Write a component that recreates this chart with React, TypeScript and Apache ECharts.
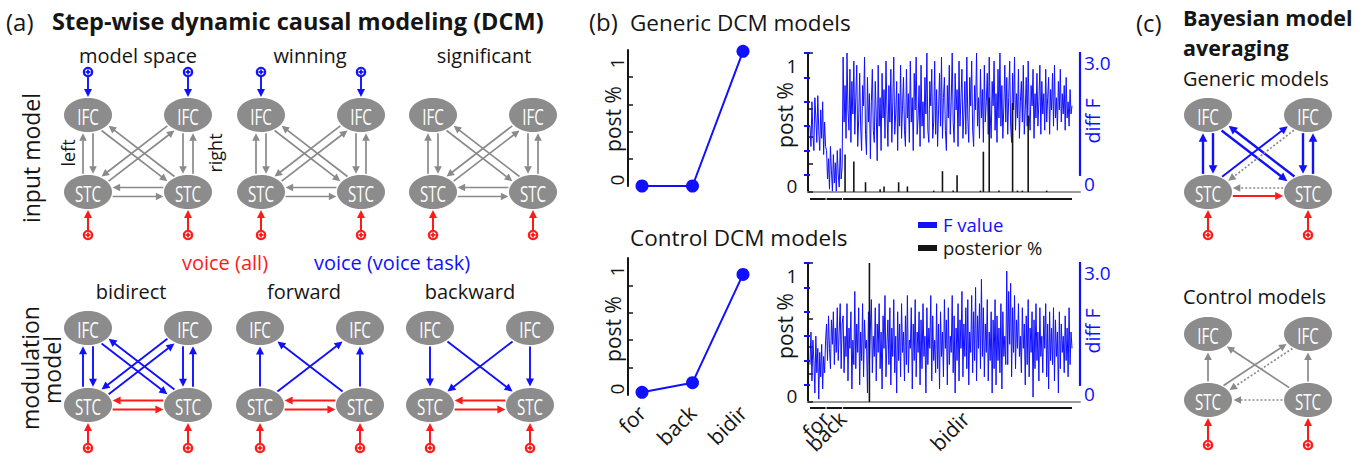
import React, { useEffect, useRef } from 'react';
import * as echarts from 'echarts';

const FONT = '"Open Sans", Lato, "DejaVu Sans", sans-serif';
const BLUE = '#1010ff';
const RED = '#ff1a1a';
const GRAY = '#8a8a8a';
const NODE_FILL = '#8c8c8c';
const INK = '#151515';

// ---------- panel (b) data ----------
const modelFamilies = ['for', 'back', 'bidir'];
const genericFamilyPost = [0, 0, 0.99];
const controlFamilyPost = [0.02, 0.09, 0.88];
const familyRanges = [
  [0, 16],
  [17, 33],
  [34, 269],
];
const leftAxisTicksSmall = [0.2, 0.4, 0.6, 0.8];
const leftAxisTicksWide = [0, 0.2, 0.4, 0.6, 1];
const rightAxisTicks = [0, 0.6, 1.2, 1.8, 2.4, 3.0];
const rightAxisLabels = [0, 3.0];

const genericDiffF = [
  // for
  1.2, 0.7, 1.8, 1.0, 0.6, 1.9, 1.4, 0.8, 1.95, 1.1, 0.6, 1.6, 0.9, 1.8, 0.5, 1.3, 0.7,
  // back
  0.6, -0.1, 0.4, -0.35, 0.7, 0.1, -0.4, 0.5, -0.2, 0.3, -0.4, 0.6, 0.0, -0.3, 0.65, -0.1, 0.2,
  // bidir
  2.9, 1.3, 2.2, 0.9, 3.0, 1.6, 1.1, 2.6, 0.8, 2.3, 1.5, 2.8,
  1.0, 1.9, 2.7, 0.7, 1.4, 2.5, 1.2, 0.6, 2.2, 1.7, 2.9, 1.0,
  0.5, 2.4, 1.3, 2.0, 0.4, 1.8, 2.6, 1.1, 0.8, 2.3, 1.5, 0.35,
  2.7, 1.2, 1.9, 0.6, 2.5, 1.4, 2.1, 0.9, 2.8, 1.6, 0.7, 2.2,
  1.3, 2.6, 0.8, 1.8, 2.9, 1.0, 1.5, 2.3, 0.6, 2.0, 1.2, 2.7,
  0.9, 1.7, 2.4, 1.1, 0.7, 2.6, 1.4, 2.0, 0.8, 2.8, 1.3, 1.9,
  0.6, 2.5, 1.6, 2.9, 1.0, 1.4, 2.2, 0.7, 2.7, 1.2, 1.8, 0.9,
  2.4, 1.5, 3.0, 1.1, 0.8, 2.3, 1.7, 2.6, 0.9, 1.3, 2.8, 1.0,
  2.1, 0.7, 1.6, 2.5, 1.2, 2.9, 0.9, 1.9, 2.4, 1.1, 0.6, 2.2,
  1.4, 2.7, 1.0, 1.8, 3.0, 1.3, 0.8, 2.5, 1.6, 2.1, 0.7, 2.8,
  1.2, 1.9, 2.6, 0.9, 1.5, 2.3, 1.0, 2.9, 1.4, 0.8, 2.4, 1.7,
  2.8, 1.1, 0.7, 2.2, 1.6, 3.0, 1.2, 1.9, 0.9, 2.6, 1.4, 2.1,
  0.8, 2.7, 1.3, 1.8, 2.5, 1.0, 2.9, 1.5, 0.9, 2.3, 1.7, 2.8,
  1.1, 2.0, 0.8, 2.6, 1.4, 3.0, 1.2, 2.2, 0.9, 1.7, 2.7, 1.3,
  2.4, 1.0, 1.9, 2.8, 1.2, 0.8, 2.5, 1.6, 2.9, 1.1, 2.0, 1.4,
  2.6, 0.9, 1.8, 2.3, 1.3, 2.7, 1.0, 1.6, 2.4, 1.2, 2.8, 1.5,
  1.1, 2.2, 1.7, 2.6, 0.9, 2.0, 1.4, 2.5, 1.2, 1.8, 2.7, 1.0,
  2.3, 1.5, 2.0, 1.1, 2.6, 1.3, 1.9, 2.4, 1.0, 2.1, 1.6, 2.5,
  1.2, 2.7, 1.4, 1.9, 1.1, 2.3, 1.6, 2.6, 1.3, 2.0, 1.5, 2.2,
  1.1, 2.4, 1.4, 1.8, 1.2, 2.1, 1.5, 1.7,
];

const controlDiffF = [
  // for
  0.5, 1.3, 0.1, 1.1, 0.6, -0.2, 1.2, 0.3, 0.9, -0.35, 0.8, 0.2, 1.0, -0.1, 0.7, 0.3, 1.1,
  // back
  1.5, 0.6, 1.7, 0.9, 0.4, 1.6, 1.0, 1.8, 0.5, 1.4, 0.8, 1.9, 0.6, 1.3, 2.0, 0.4, 1.5,
  // bidir
  1.7, 0.3, 1.2, 0.7, 2.0, 0.1, 1.4, 0.9, 1.8, -0.1, 1.1, 0.5,
  2.3, 0.4, 1.5, 0.8, 1.9, 0.0, 1.3, 0.6, 2.0, 0.2, 1.6, 0.9,
  1.1, -0.2, 1.8, 0.5, 1.4, 2.1, 0.3, 1.2, 0.7, 1.9, 0.1, 1.5,
  0.8, 2.0, 0.4, 1.3, -0.1, 1.7, 0.9, 2.2, 0.2, 1.0, 1.6, 0.5,
  1.9, 0.0, 1.4, 0.7, 2.1, 0.3, 1.2, -0.2, 1.8, 0.6, 1.5, 0.2,
  2.0, 0.8, 1.3, 0.1, 1.7, 0.5, 2.2, 0.3, 1.1, 0.9, 1.9, -0.1,
  1.5, 0.6, 2.1, 0.2, 1.3, 0.8, 1.8, 0.0, 1.6, 0.4, 2.0, 0.7,
  1.2, -0.2, 1.9, 0.5, 1.4, 0.9, 2.2, 0.1, 1.7, 0.6, 1.1, 0.3,
  2.0, 0.4, 1.5, -0.1, 1.8, 0.7, 1.3, 0.2, 2.1, 0.9, 1.6, 0.0,
  1.9, 0.5, 1.2, 0.8, 2.2, 0.3, 1.7, -0.2, 1.4, 0.6, 2.0, 0.1,
  1.6, 0.9, 2.3, 0.2, 1.5, 0.7, 1.9, 0.4, 2.1, 0.0, 1.3, 0.8,
  2.2, 0.3, 1.8, 0.6, 2.4, 0.1, 1.7, 0.9, 2.0, 0.4, 2.6, 0.7,
  1.9, 0.2, 1.5, 0.8, 2.1, 0.1, 1.3, 0.6, 1.8, -0.2, 1.6, 0.4,
  2.1, 0.0, 1.7, 0.6, 1.4, 0.3, 2.0, -0.1, 1.8, 0.7, 1.2, 0.5,
  2.8, 0.5, 2.3, 1.0, 2.5, 0.2, 1.9, 0.8, 2.2, 0.4, 1.6, 0.9,
  2.0, 0.7, 1.2, 0.3, 1.9, 0.9, 1.5, 0.0, 1.7, 0.5, 2.1, 0.2,
  1.4, 0.8, 1.8, -0.3, 1.6, 0.4, 2.0, 0.6, 1.3, 0.1, 1.9, 0.7,
  1.2, 0.3, 1.7, 0.9, 2.0, 0.2, 1.5, -0.1, 1.8, 0.6, 1.4, 0.5,
  1.9, 0.1, 1.6, 0.7, 1.3, -0.2, 1.8, 0.4, 1.5, 0.8, 1.2, 0.3,
  1.7, 0.6, 1.4, 0.2, 1.9, 0.5, 1.3, 0.9,
];

const genericModelPost = [
  [36, 0.27], [45, 0.22], [57, 0.07], [72, 0.02], [76, 0.04], [91, 0.07],
  [100, 0.04], [127, 0.01], [136, 0.15], [147, 0.01], [151, 0.12], [175, 0.01],
  [178, 0.29], [184, 0.68], [194, 0.01], [208, 0.64], [213, 0.01], [218, 0.01],
  [224, 0.55], [243, 0.01],
];
const controlModelPost = [[61, 1.0]];

// ---------- layout (positions / sizes) ----------
const G_TL = { left: 642, top: 50, width: 101, height: 136 };
const G_TR = { left: 808, top: 53, width: 272, height: 139 };
const G_BL = { left: 642, top: 258, width: 101, height: 137 };
const G_BR = { left: 808, top: 263, width: 272, height: 139 };
const X_MIN = -2.05;
const X_MAX = 277.2;
const F_MIN = -0.42;
const F_MAX = 3.0;

// ---------- network diagrams ----------
const RX = 24;
const RY = 17;
type NodeKey = 'IL' | 'IR' | 'SL' | 'SR';
type Conn = [NodeKey, NodeKey, number, string];
interface Net {
  left: number;
  top: number;
  dy: number;
  inGap: number;
  conns: Conn[];
  topIn: NodeKey[];
  botIn: NodeKey[];
}

const fullSet = (c: string): Conn[] => [
  ['SL', 'IL', -5, c], ['IL', 'SL', -5, c],
  ['SR', 'IR', 5, c], ['IR', 'SR', 5, c],
  ['IL', 'SR', 4, c], ['SR', 'IL', 4, c],
  ['SL', 'IR', 4, c], ['IR', 'SL', 4, c],
];
const hPair = (c: string): Conn[] => [
  ['SR', 'SL', 4.5, c], ['SL', 'SR', 4.5, c],
];

const nets: Net[] = [
  { left: 88, top: 115, dy: 77, inGap: 43, conns: [...fullSet('g'), ...hPair('g')], topIn: ['IL', 'IR'], botIn: ['SL', 'SR'] },
  { left: 261, top: 115, dy: 77, inGap: 43, conns: [...fullSet('g'), ...hPair('g')], topIn: ['IL', 'IR'], botIn: ['SL', 'SR'] },
  { left: 433, top: 115, dy: 77, inGap: 43, conns: [...fullSet('g'), ...hPair('g')], topIn: [], botIn: ['SL', 'SR'] },
  { left: 88, top: 328, dy: 77, inGap: 43, conns: [...fullSet('b'), ...hPair('r')], topIn: [], botIn: ['SL', 'SR'] },
  {
    left: 260, top: 328, dy: 77, inGap: 43,
    conns: [['SL', 'IL', 0, 'b'], ['SR', 'IR', 0, 'b'], ['SL', 'IR', 0, 'b'], ['SR', 'IL', 0, 'b'], ...hPair('r')],
    topIn: [], botIn: ['SL', 'SR'],
  },
  {
    left: 430, top: 328, dy: 77, inGap: 43,
    conns: [['IL', 'SL', 0, 'b'], ['IR', 'SR', 0, 'b'], ['IL', 'SR', 0, 'b'], ['IR', 'SL', 0, 'b'], ...hPair('r')],
    topIn: [], botIn: ['SL', 'SR'],
  },
  {
    left: 1208, top: 115, dy: 77, inGap: 43,
    conns: [
      ['SL', 'IL', -5, 'B'], ['IL', 'SL', -5, 'B'], ['SR', 'IR', 5, 'B'], ['IR', 'SR', 5, 'B'],
      ['IL', 'SR', 4, 'B'], ['SR', 'IL', 4, 'B'],
      ['SL', 'IR', -3.5, 'b'], ['IR', 'SL', -3.5, 'gd'],
      ['SR', 'SL', 4, 'gd'], ['SL', 'SR', 4, 'r'],
    ],
    topIn: [], botIn: ['SL', 'SR'],
  },
  {
    left: 1208, top: 334, dy: 66, inGap: 45,
    conns: [
      ['SL', 'IL', 0, 'g'], ['SR', 'IR', 0, 'g'], ['SR', 'IL', 0, 'g'],
      ['SL', 'IR', -3.5, 'g'], ['IR', 'SL', -3.5, 'gd'], ['SR', 'SL', 0, 'gd'],
    ],
    topIn: [], botIn: ['SL', 'SR'],
  },
];

const styleOf = (k: string) => {
  if (k === 'g') return { color: GRAY, w: 1.7, dash: null as number[] | null, hl: 7.5, hw: 3.8 };
  if (k === 'gd') return { color: GRAY, w: 1.7, dash: [2, 2], hl: 7.5, hw: 3.8 };
  if (k === 'b') return { color: BLUE, w: 1.9, dash: null, hl: 8, hw: 4 };
  if (k === 'B') return { color: BLUE, w: 2.4, dash: null, hl: 8.5, hw: 4.3 };
  return { color: RED, w: 2, dash: null, hl: 8, hw: 4 };
};

function exitT(ox: number, oy: number, ux: number, uy: number) {
  const a = (ux / RX) ** 2 + (uy / RY) ** 2;
  const b = 2 * ((ox * ux) / RX ** 2 + (oy * uy) / RY ** 2);
  const c = (ox / RX) ** 2 + (oy / RY) ** 2 - 1;
  return (-b + Math.sqrt(Math.max(0, b * b - 4 * a * c))) / (2 * a);
}

function arrowEls(x1: number, y1: number, x2: number, y2: number, kind: string) {
  const s = styleOf(kind);
  const len = Math.hypot(x2 - x1, y2 - y1);
  const ux = (x2 - x1) / len;
  const uy = (y2 - y1) / len;
  const px = -uy;
  const py = ux;
  const bx = x2 - ux * s.hl;
  const by = y2 - uy * s.hl;
  return [
    {
      type: 'line',
      shape: { x1, y1, x2: bx + ux * 0.5, y2: by + uy * 0.5 },
      style: { stroke: s.color, lineWidth: s.w, lineDash: s.dash || undefined },
      z: 5,
    },
    {
      type: 'polygon',
      shape: { points: [[x2, y2], [bx + px * s.hw, by + py * s.hw], [bx - px * s.hw, by - py * s.hw]] },
      style: { fill: s.color },
      z: 5,
    },
  ];
}

function inputGlyph(x: number, cy: number, color: string) {
  return [
    { type: 'circle', shape: { cx: x, cy, r: 4.2 }, style: { fill: '#fff', stroke: color, lineWidth: 2.2 }, z: 6 },
    { type: 'line', shape: { x1: x - 2.5, y1: cy, x2: x + 2.5, y2: cy }, style: { stroke: color, lineWidth: 1.8 }, z: 6 },
    { type: 'line', shape: { x1: x, y1: cy - 2.5, x2: x, y2: cy + 2.5 }, style: { stroke: color, lineWidth: 1.8 }, z: 6 },
  ];
}

function netEls(n: Net) {
  const pos = (k: NodeKey): [number, number] => [n.left + (k[1] === 'R' ? 100 : 0), n.top + (k[0] === 'S' ? n.dy : 0)];
  const els: any[] = [];
  (['IL', 'IR', 'SL', 'SR'] as NodeKey[]).forEach((k) => {
    const [cx, cy] = pos(k);
    els.push({ type: 'ellipse', shape: { cx, cy, rx: RX, ry: RY }, style: { fill: NODE_FILL }, z: 4 });
    els.push({
      type: 'text', x: cx, y: cy + 1, scaleX: 0.72, z: 7,
      style: { text: k[0] === 'I' ? 'IFC' : 'STC', fill: '#fff', fontSize: 21, fontFamily: FONT, align: 'center', verticalAlign: 'middle' },
    });
  });
  n.conns.forEach(([a, b, d, kind]) => {
    const [ax, ay] = pos(a);
    const [bx, by] = pos(b);
    const len = Math.hypot(bx - ax, by - ay);
    const ux = (bx - ax) / len;
    const uy = (by - ay) / len;
    const ox = -uy * d;
    const oy = ux * d;
    const tA = exitT(ox, oy, ux, uy) + 1.5;
    const tB = exitT(ox, oy, -ux, -uy) + 1.5;
    els.push(...arrowEls(ax + ox + ux * tA, ay + oy + uy * tA, bx + ox - ux * tB, by + oy - uy * tB, kind));
  });
  n.topIn.forEach((k) => {
    const [x, y] = pos(k);
    const cy = y - n.inGap;
    els.push(...inputGlyph(x, cy, BLUE));
    els.push(...arrowEls(x, cy + 4.5, x, y - RY - 1, 'b'));
  });
  n.botIn.forEach((k) => {
    const [x, y] = pos(k);
    const cy = y + n.inGap;
    els.push(...inputGlyph(x, cy, RED));
    els.push(...arrowEls(x, cy - 4.5, x, y + RY + 1, 'r'));
  });
  return els;
}

function txt(
  text: string,
  x: number,
  y: number,
  o: { size?: number; color?: string; weight?: string; align?: string; vAlign?: string; rot?: number } = {}
) {
  return {
    type: 'text',
    x,
    y,
    rotation: o.rot || 0,
    z: 10,
    style: {
      text,
      fill: o.color || INK,
      fontSize: o.size || 20,
      fontFamily: FONT,
      fontWeight: o.weight || 'normal',
      align: o.align || 'left',
      verticalAlign: o.vAlign || 'middle',
    },
  };
}

function leftAxis(gridIndex: number, offset: number, ticks: number[]) {
  return {
    gridIndex,
    type: 'value',
    min: 0,
    max: 1,
    position: 'left',
    offset,
    axisLine: { show: true, onZero: false, lineStyle: { color: INK, width: 2 } },
    axisTick: { show: true, inside: true, length: 5, lineStyle: { color: INK, width: 1.5 }, customValues: ticks },
    axisLabel: { show: false },
    splitLine: { show: false },
  };
}

function rightAxis(gridIndex: number) {
  return {
    gridIndex,
    type: 'value',
    min: F_MIN,
    max: F_MAX,
    position: 'right',
    axisLine: { show: false },
    axisTick: { show: true, inside: true, length: 6, lineStyle: { color: BLUE, width: 2 }, customValues: rightAxisTicks },
    axisLabel: {
      show: true,
      customValues: rightAxisLabels,
      formatter: (v: number) => (v === 0 ? '0' : v.toFixed(1)),
      color: BLUE,
      fontSize: 19,
      fontFamily: FONT,
      verticalAlign: 'top',
      margin: 4,
    },
    splitLine: { show: false },
  };
}

function modelXAxis(gridIndex: number) {
  return {
    gridIndex,
    type: 'value',
    min: X_MIN,
    max: X_MAX,
    axisLine: { show: true, onZero: false, lineStyle: { color: '#9a9a9a', width: 2 } },
    axisTick: { show: false },
    axisLabel: { show: false },
    splitLine: { show: false },
  };
}

function familyXAxis(gridIndex: number, labels: boolean) {
  return {
    gridIndex,
    type: 'category',
    data: modelFamilies,
    boundaryGap: false,
    axisLine: { show: false, onZero: false },
    axisTick: { show: false },
    axisLabel: labels
      ? { show: true, rotate: 45, fontSize: 21, color: INK, fontFamily: FONT, margin: 14 }
      : { show: false },
  };
}

function buildOption() {
  const familySeries = (xi: number, yi: number, data: number[]) => ({
    type: 'line',
    xAxisIndex: xi,
    yAxisIndex: yi,
    data,
    symbol: 'circle',
    symbolSize: 13,
    lineStyle: { color: BLUE, width: 2 },
    itemStyle: { color: BLUE },
    z: 3,
  });
  const fSeries = (xi: number, yi: number, data: number[]) => ({
    type: 'line',
    xAxisIndex: xi,
    yAxisIndex: yi,
    data: data.map((v, i) => [i, v]),
    symbol: 'none',
    showSymbol: false,
    lineStyle: { color: BLUE, width: 1 },
    z: 2,
  });
  const postSeries = (xi: number, yi: number, data: number[][]) => ({
    type: 'bar',
    xAxisIndex: xi,
    yAxisIndex: yi,
    data,
    barWidth: 1.6,
    itemStyle: { color: INK },
    z: 4,
  });
  return {
    animation: false,
    backgroundColor: '#fff',
    textStyle: { fontFamily: FONT },
    grid: [G_TL, G_TR, G_BL, G_BR].map((g) => ({ ...g, containLabel: false, outerBoundsMode: 'none' })),
    xAxis: [familyXAxis(0, false), modelXAxis(1), familyXAxis(2, true), modelXAxis(3)],
    yAxis: [
      leftAxis(0, 14, leftAxisTicksSmall),
      leftAxis(1, 0, leftAxisTicksWide),
      rightAxis(1),
      leftAxis(2, 14, leftAxisTicksSmall),
      leftAxis(3, 0, leftAxisTicksWide),
      rightAxis(3),
    ],
    series: [
      familySeries(0, 0, genericFamilyPost),
      fSeries(1, 2, genericDiffF),
      postSeries(1, 1, genericModelPost),
      familySeries(2, 3, controlFamilyPost),
      fSeries(3, 5, controlDiffF),
      postSeries(3, 4, controlModelPost),
    ],
  };
}

function buildGraphics(chart: any) {
  const els: any[] = [];
  const R90 = Math.PI / 2;

  // panel (a) texts
  els.push(txt('(a)', 6, 21, { size: 24 }));
  els.push(txt('Step-wise dynamic causal modeling (DCM)', 52, 21, { size: 23.5, weight: 'bold' }));
  els.push(txt('model space', 138, 55, { size: 20, align: 'center' }));
  els.push(txt('winning', 310, 55, { size: 20, align: 'center' }));
  els.push(txt('significant', 484, 55, { size: 20, align: 'center' }));
  els.push(txt('input model', 31, 158, { size: 23, align: 'center', rot: R90 }));
  els.push(txt('left', 68, 153, { size: 18, align: 'center', rot: R90 }));
  els.push(txt('right', 215, 153, { size: 18, align: 'center', rot: R90 }));
  els.push(txt('voice (all)', 225, 262, { size: 20, align: 'center', color: RED }));
  els.push(txt('voice (voice task)', 392, 262, { size: 20, align: 'center', color: BLUE }));
  els.push(txt('bidirect', 131, 291, { size: 20, align: 'center' }));
  els.push(txt('forward', 304, 291, { size: 20, align: 'center' }));
  els.push(txt('backward', 470, 291, { size: 20, align: 'center' }));
  els.push(txt('modulation', 30, 368, { size: 23, align: 'center', rot: R90 }));
  els.push(txt('model', 52, 370, { size: 23, align: 'center', rot: R90 }));

  // panel (b) texts
  els.push(txt('(b)', 589, 21, { size: 24 }));
  els.push(txt('Generic DCM models', 630, 22, { size: 22.5 }));
  els.push(txt('Control DCM models', 630, 237, { size: 22.5 }));
  els.push({ type: 'rect', shape: { x: 918, y: 222, width: 19, height: 6 }, style: { fill: BLUE }, z: 10 });
  els.push({ type: 'rect', shape: { x: 918, y: 245, width: 19, height: 6 }, style: { fill: INK }, z: 10 });
  els.push(txt('F value', 943, 224, { size: 18.5, color: BLUE }));
  els.push(txt('posterior %', 943, 247, { size: 18.5 }));
  els.push(txt('post %', 613, 119, { size: 21, align: 'center', rot: R90 }));
  els.push(txt('post %', 785, 115, { size: 21, align: 'center', rot: R90 }));
  els.push(txt('post %', 613, 329, { size: 21, align: 'center', rot: R90 }));
  els.push(txt('post %', 785, 326, { size: 21, align: 'center', rot: R90 }));
  els.push(txt('diff F', 1092, 121, { size: 19.5, align: 'center', rot: R90, color: BLUE }));
  els.push(txt('diff F', 1092, 331, { size: 19.5, align: 'center', rot: R90, color: BLUE }));

  // axis-derived decorations
  const yPix = (axis: number, v: number) => chart.convertToPixel({ yAxisIndex: axis }, v);
  const xPix = (axis: number, v: number) => chart.convertToPixel({ xAxisIndex: axis }, v);
  [
    { axis: 0, x: 617, rot: R90 },
    { axis: 3, x: 617, rot: R90 },
    { axis: 1, x: 792, rot: 0 },
    { axis: 4, x: 792, rot: 0 },
  ].forEach((a) => {
    els.push(txt('1', a.x, yPix(a.axis, 1) + 13, { size: 19, align: 'center', rot: a.rot }));
    els.push(txt('0', a.x, yPix(a.axis, 0) - 6, { size: 19, align: 'center', rot: a.rot }));
  });
  [
    { axis: 2, x: G_TR.left + G_TR.width },
    { axis: 5, x: G_BR.left + G_BR.width },
  ].forEach((a) => {
    els.push({
      type: 'line',
      shape: { x1: a.x, y1: yPix(a.axis, F_MAX) - 1, x2: a.x, y2: yPix(a.axis, 0) + 1 },
      style: { stroke: BLUE, lineWidth: 2.2 },
      z: 6,
    });
  });
  [
    { axis: 1, y: G_TR.top + G_TR.height + 7, labels: false },
    { axis: 3, y: G_BR.top + G_BR.height + 6, labels: true },
  ].forEach((a) => {
    familyRanges.forEach(([s, e], i) => {
      const x1 = xPix(a.axis, s);
      const x2 = xPix(a.axis, e);
      els.push({ type: 'line', shape: { x1, y1: a.y, x2, y2: a.y }, style: { stroke: INK, lineWidth: 2 }, z: 6 });
      if (a.labels) {
        const cx = (x1 + x2) / 2;
        els.push(txt(modelFamilies[i], cx + 8, a.y + 7, { size: 21, align: 'right', rot: Math.PI / 4 }));
      }
    });
  });

  // panel (c) texts
  els.push(txt('(c)', 1136, 22, { size: 24 }));
  els.push(txt('Bayesian model', 1183, 17, { size: 21.5, weight: 'bold' }));
  els.push(txt('averaging', 1183, 47, { size: 21.5, weight: 'bold' }));
  els.push(txt('Generic models', 1183, 78, { size: 20 }));
  els.push(txt('Control models', 1183, 296, { size: 20 }));

  nets.forEach((n) => els.push(...netEls(n)));
  return els;
}

export default function App() {
  const ref = useRef<HTMLDivElement>(null);
  useEffect(() => {
    if (!ref.current) return;
    const chart = echarts.init(ref.current, undefined, { renderer: 'svg' });
    chart.setOption(buildOption() as any);
    chart.setOption({ graphic: { elements: buildGraphics(chart) } } as any);
    return () => chart.dispose();
  }, []);
  return (
    <div
      ref={ref}
      style={{ position: 'fixed', left: 0, top: 0, width: 1370, height: 460, background: '#fff' }}
    />
  );
}
